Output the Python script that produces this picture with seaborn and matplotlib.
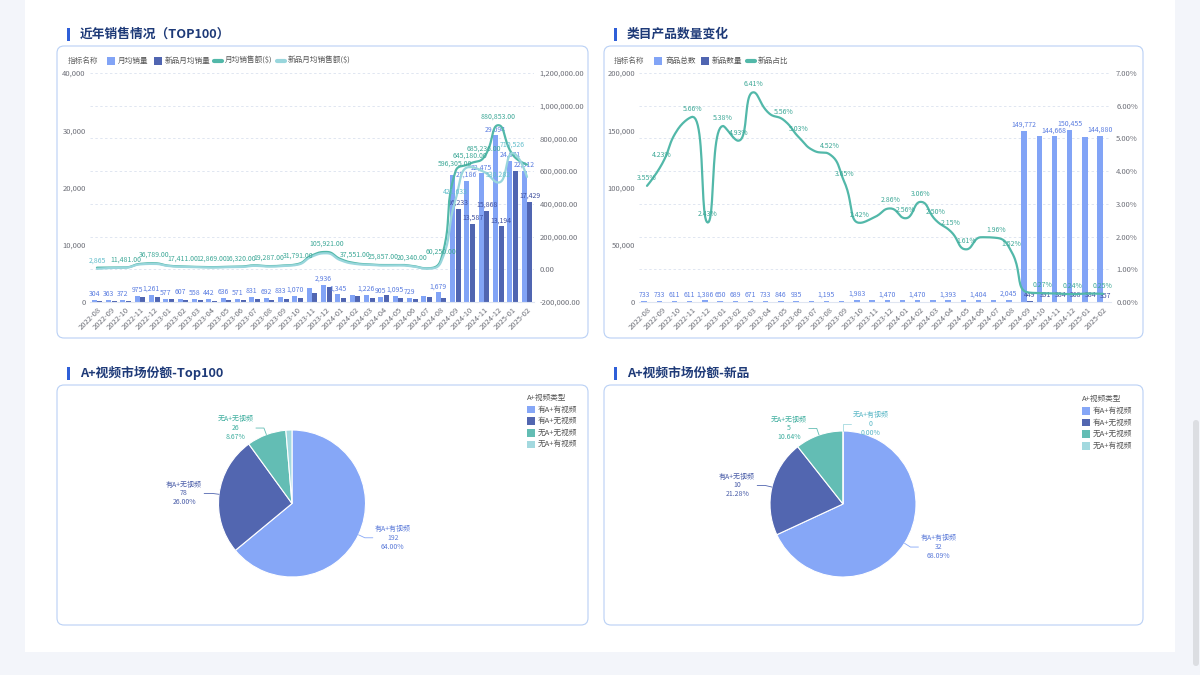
import numpy as np
import pandas as pd
import matplotlib
matplotlib.use("Agg")
import matplotlib.pyplot as plt
import seaborn as sns
from matplotlib.patches import FancyBboxPatch, Rectangle
from matplotlib.lines import Line2D

sns.set_theme(style="white")
plt.rcParams["font.family"] = ["Noto Sans CJK SC", "DejaVu Sans"]
plt.rcParams["axes.unicode_minus"] = False

# ---------------- data ----------------
months = ["2022-08", "2022-09", "2022-10", "2022-11", "2022-12", "2023-01", "2023-02", "2023-03",
          "2023-04", "2023-05", "2023-06", "2023-07", "2023-08", "2023-09", "2023-10", "2023-11",
          "2023-12", "2024-01", "2024-02", "2024-03", "2024-04", "2024-05", "2024-06", "2024-07",
          "2024-08", "2024-09", "2024-10", "2024-11", "2024-12", "2025-01", "2025-02"]

sales_qty = [304, 363, 372, 975, 1261, 577, 607, 558, 442, 636, 571, 831, 692, 833, 1070, 2450,
             2936, 1345, 1150, 1226, 905, 1095, 729, 1000, 1679, 22240, 21186, 22475, 29094, 24671, 22912]
new_sales_qty = [150, 200, 200, 800, 850, 560, 420, 300, 250, 420, 420, 560, 420, 600, 760, 1650,
                 2600, 750, 1050, 780, 1150, 700, 560, 850, 750, 16233, 13587, 15868, 13194, 22960, 17429]
sales_amt = [9800, 10500, 11481, 33000, 36789, 22000, 17411, 14500, 12869, 15000, 16320, 24000,
             19287, 23000, 31791, 85000, 105921, 62000, 37551, 30000, 25857, 27000, 20340, 6000,
             60250, 596305, 645180, 685236, 880853, 700000, 640000]
new_sales_amt = [2865, 8000, 10000, 30000, 33000, 20000, 15000, 13000, 11000, 13000, 14000, 21000,
                 17000, 20000, 28000, 78000, 98000, 55000, 33000, 27000, 23000, 24000, 18000, 4500,
                 45000, 421633, 625000, 595000, 530282, 710526, 565000]

total_products = [733, 733, 611, 611, 1386, 650, 689, 671, 733, 846, 935, 900, 1195, 1300, 1983, 1600,
                  1470, 1480, 1470, 1440, 1393, 1550, 1404, 1480, 2045, 149772, 145300, 144668, 150455,
                  144500, 144880]
new_products = [26, 31, 32, 35, 34, 35, 34, 43, 42, 47, 47, 42, 54, 47, 48, 42, 42, 38, 45, 36, 30,
                25, 28, 29, 31, 449, 391, 384, 368, 384, 357]
new_ratio = [3.55, 4.23, 5.26, 5.66, 2.43, 5.38, 4.93, 6.41, 5.78, 5.56, 5.03, 4.62, 4.52, 3.65, 2.42,
             2.60, 2.86, 2.56, 3.06, 2.50, 2.15, 1.61, 1.98, 1.96, 1.52, 0.30, 0.27, 0.26, 0.24, 0.26, 0.25]

pie_types = ["有A+有视频", "有A+无视频", "无A+无视频", "无A+有视频"]
pie_top100 = [192, 78, 26, 4]
pie_new = [32, 10, 5, 0]

qty_label_idx = list(range(15)) + [16, 17, 19, 20, 21, 22, 24, 26, 27, 28, 29, 30]
new_qty_label_idx = [25, 26, 27, 28, 30]
amt_label_idx = [2, 4, 6, 8, 10, 12, 14, 16, 18, 20, 22, 24, 25, 26, 27, 28]
new_amt_label_idx = [0, 25, 28, 29]
total_label_idx = list(range(11)) + [12, 14, 16, 18, 20, 22, 24, 25, 27, 28, 30]
new_cnt_label_idx = [25, 26, 27, 28, 29, 30]
ratio_label_idx = [0, 1, 3, 4, 5, 6, 7, 9, 10, 12, 13, 14, 16, 17, 18, 19, 20, 21, 23, 24, 26, 28, 30]

# ---------------- style ----------------
C_LB = "#82A4F6"
C_DB = "#5065B1"
C_TE = "#52B8A9"
C_LT = "#99D6DC"
C_PIE = ["#86A7F7", "#5266B0", "#63BDB4", "#A3D9DF"]
C_PIE_TXT = ["#5C7BD9", "#4A5DA8", "#3FAE9F", "#5AB7C6"]
C_AX = "#6E7079"
C_GRID = "#E0E6F1"
C_TITLE = "#1E3A78"
C_ACC = "#2F5FD8"
C_BORDER = "#B9D0F5"

W, H = 1200, 675
fig = plt.figure(figsize=(12, 6.75), dpi=100, facecolor="#F3F5FA")


def ax_px(l, t, r, b):
    return fig.add_axes([l / W, 1 - b / H, (r - l) / W, (b - t) / H])


def rect_px(l, t, r, b, rs=0.0, **kw):
    if rs > 0:
        p = FancyBboxPatch((l / 100, (H - b) / 100), (r - l) / 100, (b - t) / 100,
                           boxstyle=f"round,pad=0,rounding_size={rs}",
                           transform=fig.dpi_scale_trans, **kw)
    else:
        p = Rectangle((l / 100, (H - b) / 100), (r - l) / 100, (b - t) / 100,
                      transform=fig.dpi_scale_trans, **kw)
    fig.add_artist(p)
    return p


def ftext(x, y, s, **kw):
    kw.setdefault("va", "center")
    return fig.text(x / W, 1 - y / H, s, **kw)


# page background
rect_px(25, 0, 1175, 652, fc="white", ec="none", zorder=-3)
rect_px(1193, 420, 1199, 666, rs=0.03, fc="#DCDEE2", ec="none", zorder=-3)

# panels
for (l, t, r, b) in [(57, 46, 588, 338), (604, 46, 1143, 338), (57, 385, 588, 625), (604, 385, 1143, 625)]:
    rect_px(l, t, r, b, rs=0.07, fc="white", ec=C_BORDER, lw=0.8, zorder=-2)

# titles
for (x, y, s) in [(67, 34, "近年销售情况（TOP100）"), (614, 34, "类目产品数量变化"),
                  (67, 373, "A+视频市场份额-Top100"), (614, 373, "A+视频市场份额-新品")]:
    rect_px(x, y - 6.5, x + 3, y + 6.5, fc=C_ACC, ec="none", zorder=2)
    ftext(x + 13, y, s, fontsize=9.2, fontweight="bold", color=C_TITLE)


def legend_row(x0, y, items):
    ftext(x0, y, "指标名称", fontsize=5.5, color="#666666")
    for (kind, x, col, label) in items:
        if kind == "sq":
            rect_px(x, y - 4, x + 8, y + 4, fc=col, ec="none", zorder=2)
            ftext(x + 11, y, label, fontsize=5.5, color="#555555")
        else:
            fig.add_artist(Line2D([x / W, (x + 8) / W], [1 - y / H, 1 - y / H], color=col,
                                  lw=3, solid_capstyle="round", transform=fig.transFigure))
            ftext(x + 11, y, label, fontsize=5.5, color="#555555")


legend_row(68, 61, [("sq", 107, C_LB, "月均销量"), ("sq", 154, C_DB, "新品月均销量"),
                    ("ln", 214, C_TE, "月均销售额($)"), ("ln", 277, C_LT, "新品月均销售额($)")])
legend_row(614, 61, [("sq", 654, C_LB, "商品总数"), ("sq", 701, C_DB, "新品数量"),
                     ("ln", 747, C_TE, "新品占比")])


# echarts-like smoothing (bezier with clamped control points), computed in screen space
def smooth_curve(ax, xs, ys, s=0.5, n=24):
    pts = ax.transData.transform(np.column_stack([xs, ys]).astype(float))
    out = [pts[0]]
    cp0 = pts[0].copy()
    N = len(pts)
    t = np.linspace(0, 1, n)[1:][:, None]
    for i in range(1, N):
        x, y = pts[i]
        px, py = pts[i - 1]
        if i == N - 1:
            cp1 = np.array([x, y])
            ncp0 = None
        else:
            nx, ny = pts[i + 1]
            vx, vy = nx - px, ny - py
            lp = np.hypot(x - px, y - py)
            ln = np.hypot(nx - x, ny - y)
            r = ln / (ln + lp)
            ncx = x + vx * s * r
            ncy = y + vy * s * r
            ncx = max(min(ncx, max(nx, x)), min(nx, x))
            ncy = max(min(ncy, max(ny, y)), min(ny, y))
            vx, vy = ncx - x, ncy - y
            c1x = x - vx * lp / ln
            c1y = y - vy * lp / ln
            c1x = max(min(c1x, max(px, x)), min(px, x))
            c1y = max(min(c1y, max(py, y)), min(py, y))
            vx, vy = x - c1x, y - c1y
            ncp0 = np.array([x + vx * ln / lp, y + vy * ln / lp])
            cp1 = np.array([c1x, c1y])
        p0 = pts[i - 1]
        p3 = pts[i]
        seg = ((1 - t) ** 3) * p0 + 3 * ((1 - t) ** 2) * t * cp0 + 3 * (1 - t) * t ** 2 * cp1 + t ** 3 * p3
        out.extend(seg)
        cp0 = ncp0
    out = np.array(out)
    d = ax.transData.inverted().transform(out)
    return d[:, 0], d[:, 1]


def style_axes(ax, yticks, ylabels, side="left"):
    ax.set_facecolor("none")
    for sp in ["top", "right", "left"]:
        ax.spines[sp].set_visible(False)
    ax.spines["bottom"].set_color(C_GRID)
    ax.spines["bottom"].set_linewidth(0.8)
    ax.set_yticks(yticks)
    ax.set_yticklabels(ylabels)
    ax.tick_params(axis="y", length=0, labelsize=5.5, labelcolor=C_AX, pad=3)
    ax.set_xlabel("")
    ax.set_ylabel("")


def xlabels(ax):
    ax.set_xticks(range(len(months)))
    ax.set_xticklabels(months, rotation=45, ha="right", rotation_mode="anchor")
    ax.tick_params(axis="x", length=0, labelsize=5.5, labelcolor=C_AX, pad=3)


# ---------------- chart 1: sales ----------------
ax1 = ax_px(89.8, 73, 534.2, 302)
df1 = pd.DataFrame({"month": months * 2,
                    "series": ["月均销量"] * len(months) + ["新品月均销量"] * len(months),
                    "value": sales_qty + new_sales_qty})
sns.barplot(data=df1, x="month", y="value", hue="series", order=months,
            hue_order=["月均销量", "新品月均销量"], palette=[C_LB, C_DB], saturation=1,
            width=0.78, gap=0.08, linewidth=0, legend=False, ax=ax1, zorder=2)
ax1.set_xlim(-0.5, len(months) - 0.5)
ax1.set_ylim(0, 40000)
for v in np.linspace(0, 40000, 8)[1:]:
    ax1.axhline(v, color=C_GRID, lw=0.7, ls=(0, (2.5, 2.5)), zorder=0)
style_axes(ax1, [0, 10000, 20000, 30000, 40000], [f"{v:,}" for v in [0, 10000, 20000, 30000, 40000]])
xlabels(ax1)
for i in qty_label_idx:
    ax1.annotate(f"{sales_qty[i]:,}", (i - 0.2, sales_qty[i]), xytext=(0, 1.5), textcoords="offset points",
                 ha="center", va="bottom", fontsize=5, color="#5B7DE0", zorder=5)
for i in new_qty_label_idx:
    ax1.annotate(f"{new_sales_qty[i]:,}", (i + 0.2, new_sales_qty[i]), xytext=(0, 1.5),
                 textcoords="offset points", ha="center", va="bottom", fontsize=5, color="#3F4F9E", zorder=5)

ax2 = ax1.twinx()
ax2.set_ylim(-200000, 1200000)
ax2.set_xlim(-0.5, len(months) - 0.5)
rt = np.arange(-200000, 1200001, 200000)
ax2.set_yticks(rt)
ax2.set_yticklabels([f"{v:,.2f}" for v in rt])
ax2.tick_params(axis="y", length=0, labelsize=5.5, labelcolor=C_AX, pad=4)
for sp in ax2.spines.values():
    sp.set_visible(False)
xi = np.arange(len(months))
sx, sy = smooth_curve(ax2, xi, sales_amt)
ax2.plot(sx, sy, color=C_TE, lw=1.6, zorder=3, solid_capstyle="round")
nx_, ny_ = smooth_curve(ax2, xi, new_sales_amt)
ax2.plot(nx_, ny_, color=C_LT, lw=1.6, zorder=3, solid_capstyle="round")
for i in amt_label_idx:
    ax2.annotate(f"{sales_amt[i]:,.2f}", (i, sales_amt[i]), xytext=(0, 3), textcoords="offset points",
                 ha="center", va="bottom", fontsize=5, color="#3DA897", zorder=6)
for i in new_amt_label_idx:
    ax2.annotate(f"{new_sales_amt[i]:,}", (i, new_sales_amt[i]), xytext=(0, 3), textcoords="offset points",
                 ha="center", va="bottom", fontsize=5, color="#63BECB", zorder=6)

# ---------------- chart 2: product counts ----------------
ax3 = ax_px(639.4, 73, 1110.6, 302)
df2 = pd.DataFrame({"month": months * 2,
                    "series": ["商品总数"] * len(months) + ["新品数量"] * len(months),
                    "value": total_products + new_products})
sns.barplot(data=df2, x="month", y="value", hue="series", order=months,
            hue_order=["商品总数", "新品数量"], palette=[C_LB, C_DB], saturation=1,
            width=0.78, gap=0.08, linewidth=0, legend=False, ax=ax3, zorder=2)
ax3.set_xlim(-0.5, len(months) - 0.5)
ax3.set_ylim(0, 200000)
for v in np.linspace(0, 200000, 8)[1:]:
    ax3.axhline(v, color=C_GRID, lw=0.7, ls=(0, (2.5, 2.5)), zorder=0)
lt = [0, 50000, 100000, 150000, 200000]
style_axes(ax3, lt, [f"{v:,}" for v in lt])
xlabels(ax3)
for i in total_label_idx:
    ax3.annotate(f"{total_products[i]:,}", (i - 0.2, total_products[i]), xytext=(0, 1.5),
                 textcoords="offset points", ha="center", va="bottom", fontsize=5, color="#5B7DE0", zorder=5)
for i in new_cnt_label_idx:
    ax3.annotate(f"{new_products[i]:,}", (i + 0.2, new_products[i]), xytext=(0, 1.5),
                 textcoords="offset points", ha="center", va="bottom", fontsize=5, color="#3F4F9E", zorder=5)

ax4 = ax3.twinx()
ax4.set_ylim(0, 7)
ax4.set_xlim(-0.5, len(months) - 0.5)
ax4.set_yticks(range(8))
ax4.set_yticklabels([f"{v:.2f}%" for v in range(8)])
ax4.tick_params(axis="y", length=0, labelsize=5.5, labelcolor=C_AX, pad=4)
for sp in ax4.spines.values():
    sp.set_visible(False)
rx, ry = smooth_curve(ax4, xi, new_ratio)
ax4.plot(rx, ry, color=C_TE, lw=1.6, zorder=3, solid_capstyle="round")
for i in ratio_label_idx:
    ax4.annotate(f"{new_ratio[i]:.2f}%", (i, new_ratio[i]), xytext=(0, 3), textcoords="offset points",
                 ha="center", va="bottom", fontsize=5, color="#3DA897", zorder=6)


# ---------------- pies ----------------
def draw_pie(cx, cy, r, vals, show_idx, legend_x, legend_y):
    half = 100
    ax = ax_px(cx - half, cy - half, cx + half, cy + half)
    ax.pie(vals, colors=C_PIE, startangle=90, counterclock=False, radius=1,
           wedgeprops=dict(edgecolor="white", linewidth=0.8))
    ax.set_xlim(-half / r, half / r)
    ax.set_ylim(-half / r, half / r)
    ax.set_aspect("equal")
    ax.axis("off")
    total = sum(vals)
    start = 90.0
    for k, v in enumerate(vals):
        sweep = 360.0 * v / total
        mid = np.deg2rad(start - sweep / 2)
        start -= sweep
        if k not in show_idx:
            continue
        c, s = np.cos(mid), np.sin(mid)
        if abs(c) < 1e-6:
            c = 0.0
        e = np.array([c, s])
        l1 = e * (r + 7) / r
        sign = 1 if c >= 0 else -1
        l2 = l1 + np.array([sign * 8 / r, 0])
        ax.plot([e[0], l1[0], l2[0]], [e[1], l1[1], l2[1]], color=C_PIE[k], lw=0.6, clip_on=False)
        pct = 100.0 * v / total
        ax.text(l2[0] + sign * 2 / r, l2[1], f"{pie_types[k]}\n{v}\n{pct:.2f}%",
                ha="left" if sign > 0 else "right", va="center", multialignment="center",
                fontsize=5, color=C_PIE_TXT[k], linespacing=1.15, clip_on=False)
    ftext(legend_x, legend_y, "A+视频类型", fontsize=5.5, color="#555555")
    for k, name in enumerate(pie_types):
        yy = legend_y + 12 + 11.6 * k
        rect_px(legend_x, yy - 3.8, legend_x + 8, yy + 3.8, fc=C_PIE[k], ec="none", zorder=2)
        ftext(legend_x + 11, yy, name, fontsize=5.5, color="#555555")


draw_pie(292, 503.5, 73.5, pie_top100, [0, 1, 2], 527, 397.5)
draw_pie(843, 504, 73, pie_new, [0, 1, 2, 3], 1082, 399)

fig.savefig("out.png", dpi=100, facecolor=fig.get_facecolor())
